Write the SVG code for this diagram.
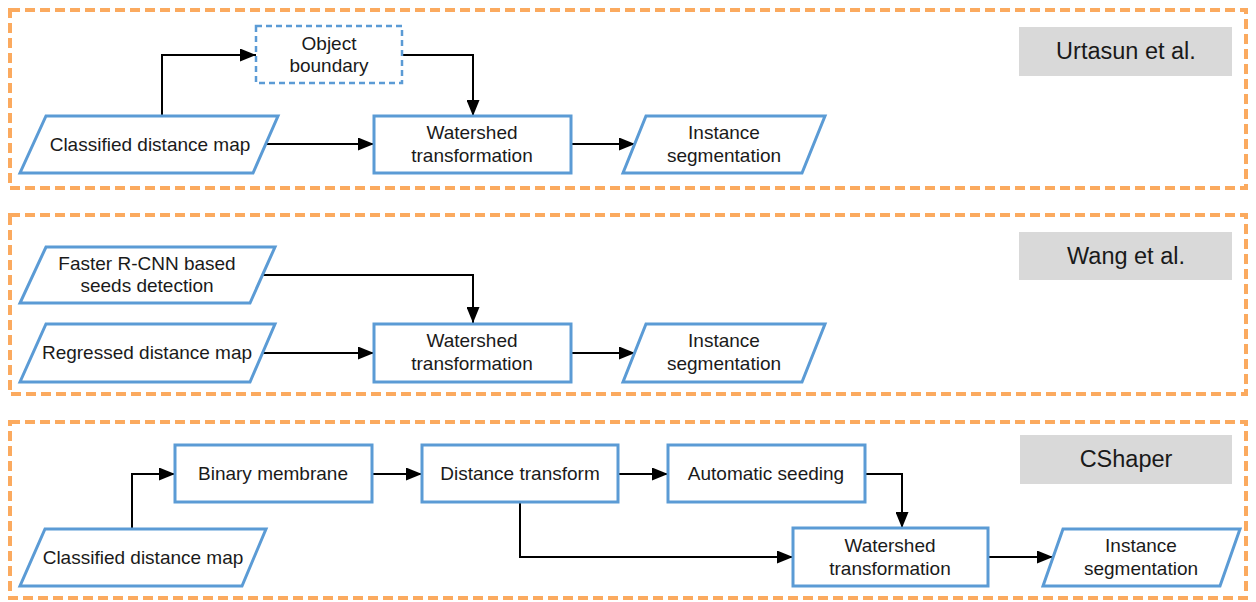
<svg xmlns="http://www.w3.org/2000/svg" width="1256" height="602" viewBox="0 0 1256 602">
<defs>
<style>
.panel{fill:none;stroke:#fbaa5f;stroke-width:4;stroke-dasharray:10 5}
.node{fill:#fff;stroke:#5b9bd5;stroke-width:3}
.dnode{fill:#fff;stroke:#5b9bd5;stroke-width:2.5;stroke-dasharray:6 4}
.lab{fill:#d9d9d9}
.t{font-family:"Liberation Sans",Arial,sans-serif;font-size:19px;fill:#1a1a1a;text-anchor:middle}
.lt{font-family:"Liberation Sans",Arial,sans-serif;font-size:23.5px;fill:#1a1a1a;text-anchor:middle}
.c{fill:none;stroke:#000;stroke-width:2}
</style>
<marker id="ah" viewBox="0 0 16 13" refX="16" refY="6.5" markerWidth="16" markerHeight="13" markerUnits="userSpaceOnUse" orient="auto">
<path d="M0,0 L16,6.5 L0,13 z" fill="#000"/>
</marker>
</defs>
<rect fill="#fff" width="1256" height="602"/>
<g id="panels">
<rect class="panel" x="10" y="10" width="1236" height="178"/>
<rect class="panel" x="10" y="215" width="1236" height="179"/>
<rect class="panel" x="10" y="422" width="1236" height="176"/>
</g>
<g id="connectors">
<path class="c" d="M162,116 V55 H256" marker-end="url(#ah)"/>
<path class="c" d="M265,144 H374" marker-end="url(#ah)"/>
<path class="c" d="M402,55 H473 V116" marker-end="url(#ah)"/>
<path class="c" d="M571,144 H635" marker-end="url(#ah)"/>
<path class="c" d="M262,275 H473 V323" marker-end="url(#ah)"/>
<path class="c" d="M262,353 H374" marker-end="url(#ah)"/>
<path class="c" d="M571,353 H635" marker-end="url(#ah)"/>
<path class="c" d="M132,529 V474 H175" marker-end="url(#ah)"/>
<path class="c" d="M372,474 H422" marker-end="url(#ah)"/>
<path class="c" d="M618,474 H668" marker-end="url(#ah)"/>
<path class="c" d="M865,474 H902 V528" marker-end="url(#ah)"/>
<path class="c" d="M520,502 V557 H793" marker-end="url(#ah)"/>
<path class="c" d="M988,557 H1053" marker-end="url(#ah)"/>
</g>
<g id="label-urtasun"><rect class="lab" x="1019" y="27" width="213" height="49"/><text class="lt" x="1126" y="59">Urtasun et al.</text></g>
<g id="label-wang"><rect class="lab" x="1019" y="232" width="213" height="48"/><text class="lt" x="1126" y="264">Wang et al.</text></g>
<g id="label-cshaper"><rect class="lab" x="1020" y="435" width="212" height="49"/><text class="lt" x="1126" y="467">CShaper</text></g>
<g id="n-objbound"><rect class="dnode" x="256" y="26" width="146" height="57"/><text class="t" x="329" y="50">Object</text><text class="t" x="329" y="72">boundary</text></g>
<g id="n-cdm1"><polygon class="node" points="46,116 278,116 253,173 20,173"/><text class="t" x="150" y="151">Classified distance map</text></g>
<g id="n-ws1"><rect class="node" x="374" y="116" width="197" height="57"/><text class="t" x="472" y="139">Watershed</text><text class="t" x="472" y="162">transformation</text></g>
<g id="n-inst1"><polygon class="node" points="646,116 825,116 802,173 623,173"/><text class="t" x="724" y="139">Instance</text><text class="t" x="724" y="162">segmentation</text></g>
<g id="n-frcnn"><polygon class="node" points="46,247 275,247 250,303 20,303"/><text class="t" x="147" y="270">Faster R-CNN based</text><text class="t" x="147" y="292">seeds detection</text></g>
<g id="n-rdm"><polygon class="node" points="46,324 275,324 250,382 20,382"/><text class="t" x="147" y="359">Regressed distance map</text></g>
<g id="n-ws2"><rect class="node" x="374" y="324" width="197" height="58"/><text class="t" x="472" y="347">Watershed</text><text class="t" x="472" y="370">transformation</text></g>
<g id="n-inst2"><polygon class="node" points="646,324 825,324 802,382 623,382"/><text class="t" x="724" y="347">Instance</text><text class="t" x="724" y="370">segmentation</text></g>
<g id="n-binary"><rect class="node" x="175" y="445" width="197" height="57"/><text class="t" x="273" y="480">Binary membrane</text></g>
<g id="n-dist"><rect class="node" x="422" y="445" width="196" height="57"/><text class="t" x="520" y="480">Distance transform</text></g>
<g id="n-seed"><rect class="node" x="668" y="445" width="197" height="57"/><text class="t" x="766" y="480">Automatic seeding</text></g>
<g id="n-cdm3"><polygon class="node" points="45,529 266,529 242,586 20,586"/><text class="t" x="143" y="564">Classified distance map</text></g>
<g id="n-ws3"><rect class="node" x="793" y="528" width="195" height="58"/><text class="t" x="890" y="552">Watershed</text><text class="t" x="890" y="575">transformation</text></g>
<g id="n-inst3"><polygon class="node" points="1063,529 1240,529 1220,586 1043,586"/><text class="t" x="1141" y="552">Instance</text><text class="t" x="1141" y="575">segmentation</text></g>
</svg>
